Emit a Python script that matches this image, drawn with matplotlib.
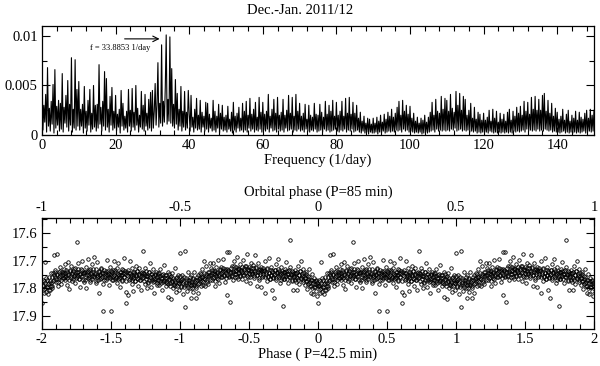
import numpy as np
import matplotlib.pyplot as plt
from matplotlib.ticker import MultipleLocator

plt.rcParams["font.family"] = ["Liberation Serif", "DejaVu Serif"]

TITLE = "Dec.-Jan. 2011/12"
PEAK_LABEL = "f = 33.8853 1/day"
FREQ_LABEL = "Frequency (1/day)"
PHASE_LABEL = "Phase ( P=42.5 min)"
ORBIT_LABEL = "Orbital phase (P=85 min)"

# Amplitude spectrum on a 0.25 1/day grid (0..150), units of 1e-3.
FREQ_STEP = 0.25
power_e3 = [
    7.2, 0.5, 3.0, 1.3, 4.1, 0.3, 6.8, 0.9, 2.7, 0.4, 3.4, 1.1, 5.1, 0.2, 6.6, 0.7, 2.9, 1.0, 3.5, 0.4,
    3.2, 0.6, 6.2, 0.3, 2.8, 1.2, 4.0, 0.8, 5.5, 0.4, 3.1, 1.0, 7.8, 0.3, 2.6, 0.7, 7.6, 0.5, 4.6, 0.9,
    5.4, 0.5, 2.6, 0.9, 3.1, 0.2, 4.9, 0.7, 2.4, 0.4, 3.5, 1.0, 4.6, 0.3, 2.2, 0.6, 5.0, 0.8, 3.0, 0.4,
    3.1, 0.7, 7.1, 1.1, 2.8, 0.4, 3.4, 0.9, 6.4, 0.5, 5.7, 0.8, 2.6, 0.3, 3.9, 1.0, 4.8, 0.5, 2.4, 0.7,
    4.0, 0.4, 2.1, 0.8, 2.6, 0.2, 4.5, 0.9, 3.2, 0.5, 1.9, 0.7, 2.4, 0.3, 4.6, 0.9, 2.5, 0.4, 4.7, 0.8,
    2.3, 0.5, 5.0, 1.0, 2.7, 0.3, 2.0, 0.8, 4.4, 0.6, 3.0, 0.4, 4.1, 0.9, 2.2, 0.5, 3.6, 0.7, 4.3, 0.4,
    4.5, 0.7, 2.4, 5.2, 1.0, 3.0, 7.3, 0.8, 3.2, 1.2, 9.1, 0.9, 3.4, 1.3, 4.8, 10.1, 1.1, 3.6, 1.4, 9.9,
    1.2, 6.7, 0.9, 3.1, 0.7, 5.6, 1.1, 4.2, 0.5, 2.6, 0.9, 4.9, 0.4, 2.4, 0.8, 4.4, 0.5, 2.3, 0.7, 4.5,
    2.2, 0.4, 4.0, 0.8, 1.8, 0.3, 2.6, 0.7, 3.7, 0.5, 2.0, 0.6, 3.5, 0.3, 2.3, 0.8, 1.9, 0.4, 3.3, 0.6,
    3.2, 0.3, 2.1, 0.7, 1.7, 0.4, 3.5, 0.5, 2.4, 0.3, 1.9, 0.7, 3.1, 0.2, 2.2, 0.6, 3.0, 0.4, 1.8, 0.5,
    2.0, 0.3, 2.9, 0.6, 1.6, 0.4, 2.3, 0.2, 3.3, 0.5, 1.9, 0.3, 2.2, 0.7, 2.8, 0.4, 1.7, 0.5, 3.2, 0.3,
    2.4, 0.5, 3.4, 0.3, 2.0, 0.7, 3.7, 0.4, 2.1, 0.6, 2.6, 0.3, 3.3, 0.5, 1.8, 0.4, 3.8, 0.6, 2.3, 0.3,
    3.3, 0.5, 2.1, 0.4, 2.4, 0.6, 4.1, 0.3, 1.9, 0.7, 2.6, 0.4, 3.6, 0.5, 2.2, 0.3, 3.8, 0.6, 2.0, 0.4,
    2.3, 0.5, 3.6, 0.3, 2.0, 0.7, 2.5, 0.4, 4.0, 0.5, 2.2, 0.6, 3.8, 0.3, 1.9, 0.5, 4.1, 0.4, 2.4, 0.6,
    3.2, 0.4, 1.9, 0.5, 2.2, 0.3, 3.1, 0.6, 1.6, 0.4, 3.0, 0.3, 2.0, 0.5, 1.8, 0.4, 3.2, 0.6, 2.1, 0.3,
    2.0, 0.4, 3.1, 0.5, 2.3, 0.3, 1.8, 0.6, 3.4, 0.4, 2.1, 0.5, 3.0, 0.3, 2.4, 0.4, 3.5, 0.5, 1.9, 0.6,
    3.3, 0.4, 2.0, 0.3, 2.4, 0.5, 3.4, 0.4, 1.9, 0.6, 3.7, 0.3, 2.2, 0.5, 3.8, 0.4, 2.1, 0.6, 3.3, 0.3,
    2.2, 0.4, 3.0, 0.5, 1.7, 0.3, 2.3, 0.2, 1.4, 0.4, 1.9, 0.2, 1.2, 0.3, 1.7, 0.1, 1.6, 0.3, 1.1, 0.2,
    1.7, 0.2, 1.2, 0.3, 1.8, 0.1, 1.4, 0.3, 2.0, 0.2, 1.3, 0.4, 2.1, 0.2, 1.6, 0.3, 2.3, 0.4, 1.9, 0.3,
    2.6, 0.4, 1.8, 0.3, 2.2, 0.5, 2.8, 0.4, 3.4, 0.5, 2.0, 0.3, 3.5, 0.6, 2.4, 0.4, 3.0, 0.5, 2.1, 0.3,
    2.9, 0.4, 1.7, 0.3, 2.2, 0.2, 1.4, 0.3, 1.8, 0.2, 1.2, 0.3, 1.7, 0.1, 1.5, 0.2, 2.0, 0.3, 1.3, 0.2,
    1.8, 0.3, 2.3, 0.4, 3.3, 0.5, 2.0, 0.3, 3.6, 0.6, 2.4, 0.4, 2.2, 0.5, 3.9, 0.4, 2.6, 0.5, 3.7, 0.4,
    3.5, 0.5, 2.4, 0.4, 4.1, 0.6, 2.7, 0.5, 2.3, 0.7, 4.4, 0.4, 3.0, 0.5, 4.2, 0.6, 2.5, 0.4, 3.9, 0.5,
    3.6, 0.4, 2.0, 0.5, 2.5, 0.3, 3.2, 0.4, 1.7, 0.3, 2.8, 0.4, 1.6, 0.2, 2.3, 0.3, 2.1, 0.2, 1.5, 0.3,
    2.2, 0.2, 1.5, 0.3, 1.8, 0.2, 2.5, 0.4, 1.4, 0.3, 2.6, 0.2, 1.7, 0.3, 2.4, 0.2, 1.3, 0.3, 2.2, 0.2,
    1.6, 0.3, 2.1, 0.2, 1.4, 0.3, 2.3, 0.2, 2.6, 0.3, 1.5, 0.2, 2.4, 0.4, 1.9, 0.3, 2.8, 0.4, 2.2, 0.3,
    2.9, 0.4, 2.0, 0.5, 3.4, 0.3, 2.4, 0.6, 3.3, 0.4, 2.1, 0.5, 3.8, 0.4, 2.6, 0.5, 3.9, 0.4, 2.5, 0.6,
    3.6, 0.4, 2.5, 0.5, 4.0, 0.4, 4.2, 0.6, 2.4, 0.5, 3.5, 0.4, 2.2, 0.5, 3.2, 0.3, 1.9, 0.4, 2.7, 0.3,
    2.3, 0.3, 1.6, 0.2, 1.9, 0.3, 2.6, 0.4, 1.5, 0.2, 2.1, 0.3, 2.5, 0.2, 1.4, 0.3, 2.0, 0.2, 1.7, 0.3,
    2.4, 0.2, 1.5, 0.3, 2.3, 0.2, 1.8, 0.3, 1.6, 0.4, 2.2, 0.2, 2.5, 0.3, 1.7, 0.4, 2.6, 0.3, 2.0, 0.4,
    2.5,
]

# Folded light curve, one orbital cycle (phase -2..0 in P=42.5 min units),
# phase in 1e-3 units, magnitude minus 17 in 1e-3 mag. Plotted again at +2.
phase_milli = [
    -1998, -1994, -1989, -1985, -1980, -1975, -1971, -1966, -1961, -1957, -1952, -1947, -1943, -1938, -1933, -1928,
    -1923, -1918, -1914, -1909, -1904, -1899, -1894, -1890, -1885, -1880, -1876, -1871, -1866, -1861, -1856, -1851,
    -1846, -1841, -1836, -1832, -1827, -1822, -1817, -1812, -1808, -1803, -1798, -1793, -1788, -1784, -1779, -1774,
    -1769, -1764, -1760, -1755, -1750, -1745, -1741, -1736, -1731, -1726, -1722, -1717, -1712, -1707, -1702, -1698,
    -1693, -1688, -1683, -1679, -1674, -1669, -1664, -1660, -1655, -1650, -1645, -1641, -1636, -1631, -1626, -1622,
    -1617, -1612, -1607, -1603, -1598, -1593, -1588, -1584, -1579, -1574, -1569, -1565, -1560, -1555, -1550, -1546,
    -1541, -1536, -1531, -1527, -1522, -1517, -1512, -1508, -1503, -1498, -1493, -1489, -1484, -1479, -1474, -1470,
    -1465, -1460, -1455, -1451, -1446, -1441, -1436, -1432, -1427, -1422, -1417, -1413, -1408, -1403, -1398, -1394,
    -1389, -1384, -1379, -1375, -1370, -1365, -1360, -1356, -1351, -1346, -1341, -1337, -1332, -1327, -1322, -1318,
    -1313, -1308, -1303, -1299, -1294, -1289, -1284, -1280, -1275, -1270, -1265, -1261, -1256, -1251, -1246, -1242,
    -1237, -1232, -1227, -1223, -1218, -1213, -1208, -1204, -1199, -1194, -1189, -1185, -1180, -1175, -1170, -1166,
    -1161, -1156, -1151, -1147, -1142, -1137, -1132, -1128, -1123, -1118, -1113, -1109, -1104, -1099, -1094, -1090,
    -1085, -1080, -1075, -1071, -1066, -1061, -1056, -1052, -1047, -1042, -1037, -1033, -1028, -1023, -1018, -1014,
    -1009, -1004, -999, -995, -990, -985, -980, -976, -971, -966, -961, -957, -952, -947, -942, -938,
    -933, -928, -923, -919, -914, -909, -904, -900, -895, -890, -885, -881, -876, -871, -866, -862,
    -857, -852, -847, -843, -838, -833, -828, -824, -819, -814, -809, -805, -800, -795, -790, -786,
    -781, -776, -771, -767, -762, -757, -752, -748, -743, -738, -733, -729, -724, -719, -714, -710,
    -705, -700, -695, -691, -686, -681, -676, -672, -667, -662, -657, -653, -648, -643, -638, -634,
    -629, -624, -619, -615, -610, -605, -600, -596, -591, -586, -581, -577, -572, -567, -562, -558,
    -553, -548, -543, -539, -534, -529, -524, -520, -515, -510, -505, -501, -496, -491, -486, -482,
    -477, -472, -467, -463, -458, -453, -448, -444, -439, -434, -429, -425, -420, -415, -410, -406,
    -401, -396, -391, -387, -382, -377, -372, -368, -363, -358, -353, -349, -344, -339, -334, -330,
    -325, -320, -315, -311, -306, -301, -296, -292, -287, -282, -277, -273, -268, -263, -258, -254,
    -249, -244, -239, -235, -230, -225, -220, -216, -211, -206, -201, -197, -192, -187, -182, -178,
    -173, -168, -163, -159, -154, -149, -144, -140, -135, -130, -125, -121, -116, -111, -106, -102,
    -97, -92, -87, -83, -78, -73, -68, -64, -59, -54, -49, -45, -40, -35, -30, -26,
    -21, -16, -11, -7, -3,
]
mag_milli = [
    852, 790, 818, 775, 704, 800, 812, 768, 795, 822, 781, 760, 806, 790, 745, 798,
    772, 745, 680, 758, 734, 776, 677, 752, 790, 741, 765, 722, 757, 783, 739, 762,
    748, 730, 769, 712, 756, 741, 788, 703, 752, 804, 735, 763, 718, 749, 772, 737,
    755, 726, 782, 745, 634, 760, 739, 710, 767, 748, 795, 731, 754, 700, 743, 776,
    741, 768, 722, 800, 751, 736, 693, 759, 778, 729, 746, 713, 765, 742, 686, 757,
    749, 779, 731, 758, 706, 770, 740, 818, 752, 725, 763, 744, 783, 882, 735, 760,
    745, 770, 696, 752, 737, 788, 760, 722, 748, 882, 771, 733, 756, 702, 765, 742,
    758, 727, 781, 748, 709, 764, 740, 796, 753, 731, 772, 745, 690, 760, 736, 812,
    852, 750, 825, 733, 768, 744, 702, 759, 785, 728, 755, 810, 741, 772, 718, 750,
    763, 736, 790, 748, 725, 771, 754, 805, 739, 666, 760, 744, 783, 727, 756, 800,
    757, 782, 740, 768, 709, 762, 795, 748, 776, 731, 765, 818, 752, 742, 786, 760,
    771, 745, 788, 757, 730, 779, 764, 806, 748, 775, 716, 762, 790, 753, 781, 740,
    830, 767, 792, 758, 838, 776, 745, 800, 769, 785, 726, 790, 812, 760, 778, 750,
    781, 805, 672, 768, 790, 752, 820, 774, 795, 666, 866, 763, 786, 810, 742, 779,
    770, 798, 752, 836, 783, 761, 812, 789, 740, 776, 835, 797, 758, 784, 815, 765,
    772, 745, 791, 758, 731, 776, 700, 762, 790, 748, 720, 769, 741, 783, 756, 710,
    752, 728, 771, 745, 707, 760, 736, 790, 749, 722, 764, 741, 698, 757, 779, 733,
    746, 721, 760, 738, 694, 752, 729, 777, 743, 668, 825, 735, 755, 670, 850, 740,
    756, 718, 741, 770, 702, 736, 759, 724, 748, 688, 731, 766, 745, 712, 753, 733,
    740, 765, 697, 728, 751, 719, 773, 742, 676, 735, 758, 722, 747, 780, 709, 738,
    749, 716, 738, 762, 680, 744, 727, 790, 753, 708, 735, 768, 741, 722, 796, 736,
    728, 755, 737, 816, 701, 749, 772, 730, 758, 690, 743, 765, 724, 752, 806, 739,
    760, 836, 733, 748, 713, 769, 741, 756, 695, 738, 781, 750, 722, 764, 745, 864,
    742, 766, 730, 757, 705, 748, 779, 736, 760, 724, 626, 752, 771, 738, 806, 749,
    757, 732, 778, 745, 806, 761, 718, 750, 785, 737, 762, 700, 748, 771, 729, 755,
    763, 788, 742, 775, 801, 756, 780, 730, 792, 815, 768, 749, 800, 822, 774, 796,
    785, 808, 770, 826, 792,
]

# Additional points inside the dense central band (same units).
core_phase_milli = [
    -1996, -1990, -1983, -1977, -1970, -1963, -1957, -1950, -1943, -1937, -1930, -1924,
    -1916, -1910, -1903, -1897, -1890, -1883, -1877, -1870, -1863, -1857, -1850, -1844,
    -1836, -1830, -1823, -1817, -1810, -1803, -1797, -1790, -1783, -1777, -1770, -1764,
    -1756, -1750, -1743, -1737, -1730, -1723, -1717, -1710, -1703, -1697, -1690, -1684,
    -1676, -1670, -1663, -1657, -1650, -1643, -1637, -1630, -1623, -1617, -1610, -1604,
    -1596, -1590, -1583, -1577, -1570, -1563, -1557, -1550, -1543, -1537, -1530, -1524,
    -1516, -1510, -1503, -1497, -1490, -1483, -1477, -1470, -1463, -1457, -1450, -1444,
    -1436, -1430, -1423, -1417, -1410, -1403, -1397, -1390, -1383, -1377, -1370, -1364,
    -1356, -1350, -1343, -1337, -1330, -1323, -1317, -1310, -1303, -1297, -1290, -1284,
    -1276, -1270, -1263, -1257, -1250, -1243, -1237, -1230, -1223, -1217, -1210, -1204,
    -1196, -1190, -1183, -1177, -1170, -1163, -1157, -1150, -1143, -1137, -1130, -1124,
    -1116, -1110, -1103, -1097, -1090, -1083, -1077, -1070, -1063, -1057, -1050, -1044,
    -1036, -1030, -1023, -1017, -1010, -1003, -997, -990, -983, -977, -970, -964,
    -956, -950, -943, -937, -930, -923, -917, -910, -903, -897, -890, -884,
    -876, -870, -863, -857, -850, -843, -837, -830, -823, -817, -810, -804,
    -796, -790, -783, -777, -770, -763, -757, -750, -743, -737, -730, -724,
    -716, -710, -703, -697, -690, -683, -677, -670, -663, -657, -650, -644,
    -636, -630, -623, -617, -610, -603, -597, -590, -583, -577, -570, -564,
    -556, -550, -543, -537, -530, -523, -517, -510, -503, -497, -490, -484,
    -476, -470, -463, -457, -450, -443, -437, -430, -423, -417, -410, -404,
    -396, -390, -383, -377, -370, -363, -357, -350, -343, -337, -330, -324,
    -316, -310, -303, -297, -290, -283, -277, -270, -263, -257, -250, -244,
    -236, -230, -223, -217, -210, -203, -197, -190, -183, -177, -170, -164,
    -156, -150, -143, -137, -130, -123, -117, -110, -103, -97, -90, -84,
    -76, -70, -63, -57, -50, -43, -37, -30, -23, -17, -10, -4,
]
core_mag_milli = [
    788, 771, 801, 779, 763, 794, 785, 805, 772, 781, 758, 790,
    770, 752, 741, 765, 748, 776, 759, 737, 768, 751, 744, 762,
    745, 758, 733, 762, 749, 771, 738, 755, 744, 766, 731, 752,
    761, 740, 753, 729, 767, 748, 757, 735, 770, 746, 739, 758,
    742, 763, 751, 734, 769, 747, 756, 730, 760, 744, 772, 750,
    755, 738, 766, 749, 731, 760, 744, 771, 753, 737, 762, 746,
    748, 764, 736, 757, 742, 770, 751, 733, 761, 745, 767, 752,
    760, 741, 769, 752, 735, 758, 746, 773, 739, 756, 744, 765,
    752, 768, 740, 761, 747, 774, 755, 738, 766, 750, 771, 743,
    764, 745, 772, 751, 738, 767, 756, 776, 742, 760, 749, 770,
    757, 773, 748, 766, 780, 752, 769, 743, 775, 761, 750, 778,
    770, 752, 778, 761, 784, 748, 767, 779, 755, 772, 763, 786,
    776, 761, 790, 769, 782, 755, 774, 795, 766, 780, 758, 788,
    782, 768, 795, 774, 760, 789, 777, 797, 765, 783, 771, 792,
    770, 752, 781, 763, 748, 775, 759, 786, 744, 767, 756, 778,
    755, 741, 768, 750, 733, 762, 746, 772, 738, 757, 744, 765,
    748, 731, 759, 742, 725, 755, 738, 764, 730, 750, 736, 760,
    742, 726, 755, 737, 720, 749, 733, 760, 728, 745, 731, 754,
    738, 722, 751, 733, 745, 718, 757, 729, 744, 735, 760, 726,
    745, 728, 756, 737, 722, 751, 740, 762, 731, 748, 735, 758,
    748, 732, 760, 741, 726, 755, 743, 766, 735, 752, 738, 762,
    751, 735, 763, 744, 729, 758, 746, 770, 738, 755, 741, 765,
    753, 738, 766, 747, 732, 760, 749, 772, 741, 758, 744, 768,
    758, 742, 770, 751, 737, 765, 754, 778, 746, 762, 749, 773,
    765, 783, 758, 777, 790, 769, 781, 763, 795, 774, 787, 779,
]


def style_axis(ax):
    ax.tick_params(which="both", direction="in", top=True, right=True,
                   labelsize=10.5, pad=3)
    ax.tick_params(which="major", length=6, width=0.8)
    ax.tick_params(which="minor", length=3.5, width=0.8)
    for s in ax.spines.values():
        s.set_linewidth(0.9)


fig = plt.figure(figsize=(6.0, 3.66), dpi=100)

# --- periodogram --------------------------------------------------------
ax1 = fig.add_axes([0.07, 0.631, 0.92, 0.298])
power = np.array(power_e3) * 1e-3
freq = np.arange(len(power)) * FREQ_STEP
ax1.plot(freq, power, color="black", lw=0.8)
ax1.set_xlim(0, 150)
ax1.set_ylim(0, 0.011)
ax1.xaxis.set_major_locator(MultipleLocator(20))
ax1.xaxis.set_minor_locator(MultipleLocator(4))
ax1.yaxis.set_major_locator(MultipleLocator(0.005))
ax1.yaxis.set_minor_locator(MultipleLocator(0.0025))
ax1.yaxis.set_major_formatter(lambda v, p: f"{v:g}")
style_axis(ax1)
ax1.set_xlabel(FREQ_LABEL, fontsize=10.5, labelpad=1)
ax1.annotate("", xy=(32.7, 0.0097), xytext=(21.7, 0.0097),
             arrowprops=dict(arrowstyle="->", lw=0.8, color="black"))
ax1.text(13.0, 0.0088, PEAK_LABEL, fontsize=6, va="center")
fig.text(0.5, 1 - 10 / 366, TITLE, ha="center", va="center", fontsize=10.5)

# --- folded light curve -------------------------------------------------
ax2 = fig.add_axes([0.07, 0.101, 0.92, 0.303])
ph = np.concatenate([phase_milli, core_phase_milli]) / 1000.0
mag = 17.0 + np.concatenate([mag_milli, core_mag_milli]) / 1000.0
for shift in (0.0, 2.0):
    ax2.plot(ph + shift, mag, "o", ms=2.5, mfc="none", mec="black", mew=0.6)
ax2.set_xlim(-2, 2)
ax2.set_ylim(17.947, 17.546)
ax2.xaxis.set_major_locator(MultipleLocator(0.5))
ax2.xaxis.set_minor_locator(MultipleLocator(0.1))
ax2.yaxis.set_major_locator(MultipleLocator(0.1))
ax2.yaxis.set_minor_locator(MultipleLocator(0.05))
ax2.xaxis.set_major_formatter(lambda v, p: f"{v:g}")
style_axis(ax2)
ax2.tick_params(which="both", top=False)
ax2.set_xlabel(PHASE_LABEL, fontsize=10.5, labelpad=1)

sec = ax2.secondary_xaxis("top", functions=(lambda x: x / 2, lambda x: x * 2))
sec.set_xticks([-1, -0.5, 0, 0.5, 1])
sec.set_xticklabels(["-1", "-0.5", "0", "0.5", "1"])
sec.xaxis.set_minor_locator(MultipleLocator(0.05))
sec.tick_params(which="both", direction="in", labelsize=10.5, pad=3)
sec.tick_params(which="major", length=6, width=0.8)
sec.tick_params(which="minor", length=3.5, width=0.8)
sec.set_xlabel(ORBIT_LABEL, fontsize=10.5, labelpad=4)

fig.savefig("out.png", dpi=100)
